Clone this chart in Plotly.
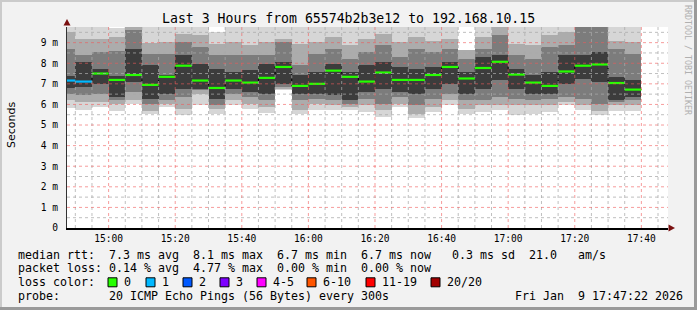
import plotly.graph_objects as go
import pandas as pd

# ---------------- data ----------------
starts = ["14:45", "14:50", "14:55", "15:00", "15:05", "15:10", "15:15", "15:20", "15:25", "15:30",
          "15:35", "15:40", "15:45", "15:50", "15:55", "16:00", "16:05", "16:10", "16:15", "16:20",
          "16:25", "16:30", "16:35", "16:40", "16:45", "16:50", "16:55", "17:00", "17:05", "17:10",
          "17:15", "17:20", "17:25", "17:30", "17:35"]

median_ms = [7.16, 7.11, 7.50, 7.19, 7.43, 6.95, 7.34, 7.88, 7.16, 6.80,
             7.16, 7.06, 7.29, 7.82, 6.90, 7.00, 7.64, 7.34, 7.11, 7.55,
             7.19, 7.19, 7.43, 7.82, 7.26, 7.77, 8.07, 7.45, 7.06, 6.90,
             7.60, 7.88, 7.94, 7.04, 6.72]

lost_pings = [1, 1, 0, 0, 0, 0, 0, 0, 0, 0, 0, 0, 0, 0, 0, 0, 0, 0, 0, 0,
              0, 0, 0, 0, 0, 0, 0, 0, 0, 0, 0, 0, 0, 0, 0]

# smoke bands (ms): outermost (min..max) to innermost
band1_lo = [5.83, 5.72, 5.88, 5.67, 6.04, 5.56, 5.88, 5.50, 5.96, 5.56, 5.96, 5.77, 5.60, 6.70, 5.56, 5.72, 5.72, 5.72,
            5.64, 5.40, 5.88, 5.35, 5.64, 5.96, 5.56, 5.64, 5.72, 5.48, 5.56, 5.64, 5.96, 5.72, 5.48, 5.67, 5.67]
band1_hi = [10.0, 10.0, 10.0, 9.7, 10.0, 10.0, 10.0, 10.0, 10.0, 9.5, 10.0, 10.0, 10.0, 10.0, 10.0, 10.0, 10.0, 10.0,
            10.0, 10.0, 10.0, 10.0, 10.0, 10.0, 8.65, 10.0, 10.0, 10.0, 10.0, 10.0, 10.0, 10.0, 10.0, 10.0, 10.0]
band2_lo = [6.20, 6.10, 6.10, 6.04, 6.20, 5.70, 6.04, 5.80, 6.50, 5.80, 6.20, 6.04, 5.88, 6.77, 5.72, 6.04, 5.96, 5.88,
            5.96, 5.72, 6.04, 5.56, 5.88, 6.20, 5.80, 5.96, 5.96, 5.96, 5.96, 5.96, 6.12, 5.96, 5.70, 5.96, 5.96]
band2_hi = [9.50, 9.20, 9.20, 9.27, 10.0, 9.00, 9.03, 9.43, 9.35, 8.95, 9.03, 8.87, 9.03, 9.20, 8.95, 9.03, 9.27, 8.87,
            9.20, 9.43, 9.03, 9.27, 9.10, 9.20, 8.63, 9.27, 10.0, 8.95, 8.87, 9.35, 9.50, 10.0, 10.0, 9.10, 9.03]
band3_lo = [6.50, 6.45, 6.50, 6.20, 6.60, 6.04, 6.20, 6.36, 6.70, 5.96, 6.53, 6.36, 6.20, 6.85, 6.20, 6.28, 6.20, 6.04,
            6.28, 6.04, 6.36, 5.96, 6.28, 6.53, 6.20, 6.20, 6.36, 6.28, 6.20, 6.28, 6.36, 6.28, 6.04, 6.12, 6.20]
band3_hi = [8.70, 8.40, 8.55, 8.60, 9.60, 8.46, 8.46, 9.03, 8.80, 8.38, 8.38, 8.38, 8.38, 9.03, 7.90, 8.46, 8.70, 8.22,
            8.55, 8.87, 8.30, 8.70, 8.55, 8.70, 8.22, 8.70, 9.35, 8.38, 8.22, 8.80, 8.87, 10.0, 10.0, 8.70, 8.46]
band4_lo = [6.80, 6.85, 7.00, 6.36, 7.10, 6.28, 6.53, 6.77, 6.77, 6.28, 6.77, 6.60, 6.53, 7.00, 6.53, 6.53, 6.45, 6.20,
            6.60, 6.77, 6.60, 6.53, 6.77, 7.00, 6.53, 6.77, 7.17, 6.77, 6.53, 6.53, 7.00, 7.25, 7.10, 6.20, 6.36]
band4_hi = [7.40, 8.06, 7.74, 7.40, 8.70, 7.90, 7.41, 8.38, 7.98, 7.74, 7.58, 7.66, 7.98, 8.06, 7.41, 7.58, 7.98, 7.58,
            7.90, 8.06, 7.82, 7.74, 7.82, 8.06, 7.58, 8.30, 8.38, 7.74, 7.41, 7.58, 8.38, 8.38, 8.55, 7.33, 7.17]

y_ticks = [0, 1, 2, 3, 4, 5, 6, 7, 8, 9]
y_ticktext = ["0", "1 m", "2 m", "3 m", "4 m", "5 m", "6 m", "7 m", "8 m", "9 m"]
x_ticktext = ["15:00", "15:20", "15:40", "16:00", "16:20", "16:40", "17:00", "17:20", "17:40"]

loss_labels = ["0", "1", "2", "3", "4-5", "6-10", "11-19", "20/20"]
loss_colors = ["#26ff00", "#00b8ff", "#0059ff", "#7e00ff", "#ff00ff", "#ff5500", "#ff0000", "#a10000"]

title = "Last 3 Hours from 65574b2b3e12 to 192.168.10.15"
row_rtt = "median rtt:  7.3 ms avg  8.1 ms max  6.7 ms min  6.7 ms now   0.3 ms sd  21.0   am/s"
row_loss = "packet loss: 0.14 % avg  4.77 % max  0.00 % min  0.00 % now"
row_probe = "probe:       20 ICMP Echo Pings (56 Bytes) every 300s                  Fri Jan  9 17:47:22 2026"

# ---------------- geometry ----------------
W, H = 697, 310
L, R, T, B = 67, 29, 27, 82
PW, PH = W - L - R, H - T - B
DAY = "2026-01-09 "
X_RANGE = [DAY + "14:47:30", DAY + "17:48:00"]
Y_RANGE = [0, 9.76]
MONO = "DejaVu Sans Mono"


def px(x):
    return (x - L) / PW


def py(y):
    return (H - B - y) / PH


t_start = pd.to_datetime([DAY + s for s in starts])
step = pd.Timedelta(minutes=5)
centers = t_start + step / 2

fig = go.Figure()

band_colors = ["#d6d6d6", "#acacac", "#7c7c7c", "#3c3c3c"]
bands = [(band1_lo, band1_hi), (band2_lo, band2_hi), (band3_lo, band3_hi), (band4_lo, band4_hi)]
for (lo, hi), col in zip(bands, band_colors):
    fig.add_trace(go.Bar(
        x=centers, base=lo, y=[h - l for l, h in zip(lo, hi)],
        width=300000, marker=dict(color=col, line=dict(width=0)),
        hoverinfo="skip", showlegend=False))

# black dotted step connector
xs = list(t_start) + [t_start[-1] + step]
ys = list(median_ms) + [median_ms[-1]]
fig.add_trace(go.Scatter(x=xs, y=ys, mode="lines", line=dict(color="black", width=1, dash="dot", shape="hv"),
                         hoverinfo="skip", showlegend=False))


def loss_color(n):
    if n <= 3:
        return loss_colors[n]
    if n <= 5:
        return loss_colors[4]
    if n <= 10:
        return loss_colors[5]
    if n <= 19:
        return loss_colors[6]
    return loss_colors[7]


seg = {}
for t, m, n in zip(t_start, median_ms, lost_pings):
    c = loss_color(n)
    seg.setdefault(c, ([], []))
    seg[c][0].extend([t, t + step, None])
    seg[c][1].extend([m, m, None])
for c, (sx, sy) in seg.items():
    fig.add_trace(go.Scatter(x=sx, y=sy, mode="lines", line=dict(color=c, width=2.2),
                             hoverinfo="skip", showlegend=False))

# grid drawn above the smoke
shapes = []
major_x = pd.date_range(DAY + "15:00", DAY + "17:40", freq="20min")
minor_x = [t for t in pd.date_range(DAY + "14:50", DAY + "17:45", freq="5min") if t not in set(major_x)]
for t in minor_x:
    shapes.append(dict(type="line", xref="x", yref="paper", x0=t, x1=t, y0=0, y1=1, layer="above",
                       line=dict(color="rgba(170,170,170,0.75)", width=1, dash="dot")))
for v in [i + 0.5 for i in range(10)]:
    shapes.append(dict(type="line", xref="paper", yref="y", x0=0, x1=1, y0=v, y1=v, layer="above",
                       line=dict(color="rgba(170,170,170,0.75)", width=1, dash="dot")))
for t in major_x:
    shapes.append(dict(type="line", xref="x", yref="paper", x0=t, x1=t, y0=0, y1=1, layer="above",
                       line=dict(color="rgba(240,90,90,0.6)", width=1, dash="dot")))
for v in y_ticks[1:]:
    shapes.append(dict(type="line", xref="paper", yref="y", x0=0, x1=1, y0=v, y1=v, layer="above",
                       line=dict(color="rgba(240,90,90,0.6)", width=1, dash="dot")))

# axis arrows
shapes.append(dict(type="path", xref="paper", yref="paper", layer="above",
                   path=f"M {px(63.5)} {py(25.5)} L {px(70.5)} {py(25.5)} L {px(67)} {py(19)} Z",
                   fillcolor="#7a1010", line=dict(width=0)))
shapes.append(dict(type="path", xref="paper", yref="paper", layer="above",
                   path=f"M {px(668.5)} {py(224.5)} L {px(668.5)} {py(231.5)} L {px(675)} {py(228)} Z",
                   fillcolor="#7a1010", line=dict(width=0)))

# frame
shapes.append(dict(type="line", xref="paper", yref="paper", x0=px(0), x1=px(W), y0=py(1), y1=py(1),
                   line=dict(color="#cbcbcb", width=2)))
shapes.append(dict(type="line", xref="paper", yref="paper", x0=px(1), x1=px(1), y0=py(0), y1=py(H),
                   line=dict(color="#cbcbcb", width=2)))
shapes.append(dict(type="line", xref="paper", yref="paper", x0=px(0), x1=px(W), y0=py(H - 1.5), y1=py(H - 1.5),
                   line=dict(color="#9a9a9a", width=3)))
shapes.append(dict(type="line", xref="paper", yref="paper", x0=px(W - 1.5), x1=px(W - 1.5), y0=py(0), y1=py(H),
                   line=dict(color="#9a9a9a", width=3)))

# loss colour boxes
box_left = [108, 146, 183, 220, 257, 307, 366, 431]
for bx, c in zip(box_left, loss_colors):
    shapes.append(dict(type="rect", xref="paper", yref="paper", x0=px(bx), x1=px(bx + 9),
                       y0=py(286.8), y1=py(277.8), fillcolor=c, line=dict(color="black", width=1)))

NB = "\u00a0"
ann = []


def text(s, x, y, size=11.63, anchor="left", color="#000", angle=0, family=MONO, yanchor="middle"):
    ann.append(dict(text=s.replace(" ", NB), x=px(x), y=py(y), xref="paper", yref="paper",
                    xanchor=anchor, yanchor=yanchor, showarrow=False, textangle=angle,
                    font=dict(family=family, size=size, color=color)))


text(title, 348, 19, size=13.2, anchor="center")
text(row_rtt, 15.5, 254.7)
text(row_loss, 15.5, 268.4)
text("loss color:", 15.5, 282.2)
for bx, lab in zip(box_left, loss_labels):
    text(lab, bx + 14, 282.2)
text(row_probe, 15.5, 296)
text("Seconds", 11, 125, size=11, anchor="center", family="DejaVu Sans", angle=-90)
text("RRDTOOL / TOBI OETIKER", 688, 60, size=8.3, anchor="center", color="#b0b0b0", angle=90)

fig.update_layout(
    width=W, height=H, margin=dict(l=L, r=R, t=T, b=B, pad=0),
    paper_bgcolor="#f2f2f2", plot_bgcolor="#ffffff",
    barmode="overlay", bargap=0, showlegend=False,
    shapes=shapes, annotations=ann,
    xaxis=dict(type="date", range=X_RANGE, tickvals=list(major_x), ticktext=x_ticktext,
               showgrid=False, zeroline=False, showline=True, linecolor="#000", linewidth=2,
               ticks="", tickfont=dict(family=MONO, size=9.6, color="#000"), layer="above traces",
               fixedrange=True),
    yaxis=dict(range=Y_RANGE, tickvals=y_ticks, ticktext=y_ticktext, showgrid=False, zeroline=False,
               showline=True, linecolor="#333", linewidth=1, ticks="", ticklabelstandoff=6,
               tickfont=dict(family=MONO, size=9.6, color="#000"), layer="above traces", fixedrange=True),
)

fig.write_html("out.html")
